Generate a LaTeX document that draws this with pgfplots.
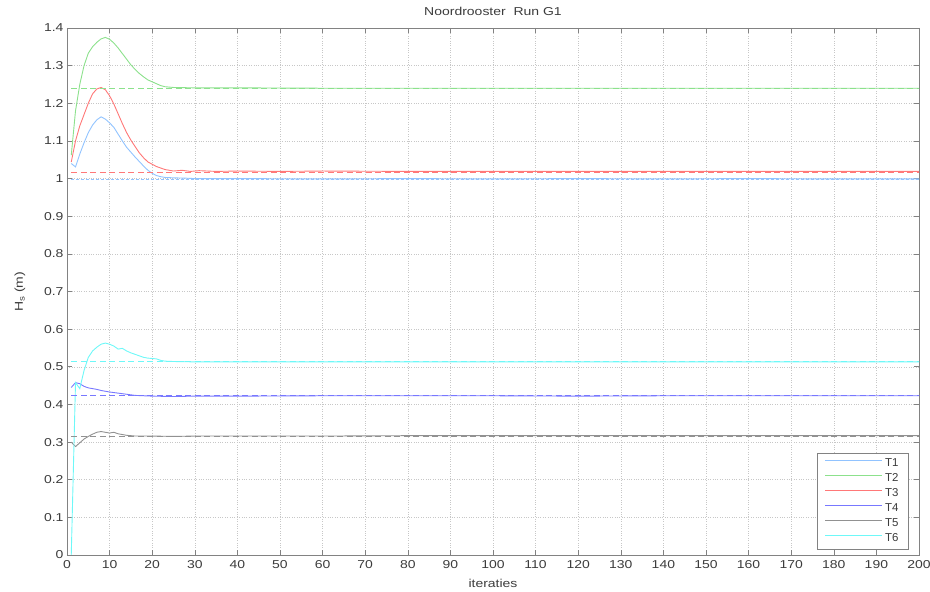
\documentclass[border=0pt]{standalone}
\usepackage{pgfplots}
\pgfplotsset{compat=1.18}
\usepackage{fontspec}
\setmainfont{Liberation Sans}[FakeStretch=1.22]
\newfontfamily\legfont{Liberation Sans}
\definecolor{cT1}{RGB}{145,195,255}
\definecolor{cT2}{RGB}{140,225,140}
\definecolor{cT3}{RGB}{255,120,120}
\definecolor{cT4}{RGB}{120,120,255}
\definecolor{cT5}{RGB}{145,145,145}
\definecolor{cT6}{RGB}{110,248,248}
\definecolor{axgray}{RGB}{130,130,130}
\definecolor{txtgray}{RGB}{60,60,60}
\begin{document}
\begin{tikzpicture}
\path[use as bounding box] (-67bp,-37bp) rectangle (863bp,555bp);
\begin{axis}[
  scale only axis,
  width=852bp, height=527bp,
  xmin=0, xmax=200, ymin=0, ymax=1.4,
  xtick={0,10,...,200},
  ytick={0,0.1,...,1.4},
  yticklabels={0,0.1,0.2,0.3,0.4,0.5,0.6,0.7,0.8,0.9,1,1.1,1.2,1.3,1.4},
  scaled y ticks=false,
  grid=major,
  major grid style={dotted, color=black!22, line width=0.5bp},
  axis line style={color=axgray, line width=0.8bp},
  tick style={color=axgray, line width=0.6bp},
  tick align=inside,
  major tick length=5bp,
  font=\fontsize{11.5}{13}\selectfont,
  ticklabel style={color=txtgray},
  xticklabel style={yshift=-2bp},
  /pgf/number format/assume math mode=true,
  title={Noordrooster\ \ Run G1},
  title style={yshift=3bp, color=txtgray},
  xlabel={iteraties},
  xlabel style={yshift=-4bp, color=txtgray},
  ylabel={H$_\mathrm{s}$ (m)},
  ylabel style={yshift=12bp, color=txtgray},
  legend style={at={(rel axis cs:0.988,0.011)}, anchor=south east, draw=axgray, line width=0.6bp,
    font=\legfont\fontsize{11.5}{13}\selectfont, text=txtgray, row sep=1.6bp, inner xsep=8bp, inner ysep=3.5bp,
    /tikz/every even column/.append style={column sep=5bp}},
  legend cell align=left,
  legend image code/.code={\draw[mark repeat=2,mark phase=2,#1, line width=1.3bp] plot coordinates {(0bp,3.2bp) (28bp,3.2bp) (57bp,3.2bp)};},
  every axis plot/.append style={line width=0.9bp},
]
% solid curves
\addplot[color=cT1] coordinates {(1,1.040) (2,1.031) (3,1.065) (4,1.095) (5,1.122) (6,1.142) (7,1.156) (8,1.164) (9,1.158) (10,1.148) (11,1.136) (12,1.118) (13,1.100) (14,1.083) (15,1.070) (16,1.057) (17,1.045) (18,1.033) (19,1.022) (20,1.014) (21,1.008) (22,1.005) (23,1.003) (25,1.002) (28,1.001) (30,1.000) (40,1.000) (60,0.999) (80,1.000) (100,0.999) (120,1.000) (140,0.999) (160,1.000) (180,0.999) (200,0.999)};
\addlegendentry{T1}
\addplot[color=cT2] coordinates {(1,1.062) (2,1.180) (3,1.250) (4,1.300) (5,1.333) (6,1.350) (7,1.362) (8,1.371) (9,1.375) (10,1.370) (11,1.360) (12,1.347) (13,1.332) (14,1.317) (15,1.302) (16,1.290) (17,1.279) (18,1.270) (19,1.262) (20,1.257) (21,1.252) (22,1.247) (23,1.244) (25,1.242) (30,1.241) (40,1.241) (60,1.240) (80,1.240) (100,1.240) (120,1.240) (140,1.240) (160,1.240) (180,1.240) (200,1.240)};
\addlegendentry{T2}
\addplot[color=cT3] coordinates {(1,1.044) (2,1.100) (3,1.140) (4,1.170) (5,1.200) (6,1.225) (7,1.238) (8,1.242) (9,1.236) (10,1.220) (11,1.198) (12,1.172) (13,1.146) (14,1.122) (15,1.102) (16,1.085) (17,1.068) (18,1.055) (19,1.044) (20,1.038) (21,1.032) (22,1.028) (23,1.024) (24,1.022) (25,1.020) (27,1.022) (29,1.019) (31,1.021) (35,1.019) (40,1.020) (50,1.019) (60,1.020) (80,1.019) (100,1.019) (120,1.019) (140,1.019) (160,1.019) (180,1.019) (200,1.019)};
\addlegendentry{T3}
\addplot[color=cT4] coordinates {(1,0.445) (2,0.458) (3,0.455) (4,0.448) (5,0.444) (6,0.442) (7,0.440) (8,0.437) (9,0.435) (10,0.433) (12,0.430) (14,0.427) (16,0.424) (18,0.423) (20,0.422) (25,0.421) (30,0.422) (40,0.422) (60,0.423) (80,0.423) (100,0.423) (120,0.422) (140,0.423) (160,0.423) (180,0.423) (200,0.423)};
\addlegendentry{T4}
\addplot[color=cT5] coordinates {(1,0.300) (2,0.288) (3,0.298) (4,0.308) (5,0.315) (6,0.321) (7,0.326) (8,0.328) (9,0.326) (10,0.324) (11,0.326) (12,0.322) (13,0.320) (14,0.318) (16,0.316) (20,0.316) (25,0.315) (30,0.316) (40,0.316) (60,0.316) (80,0.317) (100,0.317) (120,0.317) (140,0.317) (160,0.317) (180,0.317) (200,0.317)};
\addlegendentry{T5}
\addplot[color=cT6] coordinates {(1,0.000) (2,0.458) (3,0.442) (4,0.490) (5,0.525) (6,0.542) (7,0.552) (8,0.560) (9,0.563) (10,0.560) (11,0.555) (12,0.547) (13,0.549) (14,0.542) (15,0.537) (16,0.533) (17,0.529) (18,0.525) (19,0.523) (20,0.522) (21,0.521) (22,0.517) (23,0.515) (25,0.514) (30,0.513) (40,0.513) (60,0.513) (80,0.513) (100,0.513) (120,0.513) (140,0.513) (160,0.513) (180,0.513) (200,0.513)};
\addlegendentry{T6}
% dashed reference levels
\addplot[color=cT1, dash pattern=on 3bp off 2bp, forget plot] coordinates {(1,0.997) (200,0.997)};
\addplot[color=cT2, dash pattern=on 6bp off 3.5bp, forget plot] coordinates {(1,1.240) (200,1.240)};
\addplot[color=cT3, dash pattern=on 6bp off 3.5bp, forget plot] coordinates {(1,1.016) (200,1.016)};
\addplot[color=cT4, dash pattern=on 6bp off 3.5bp, forget plot] coordinates {(1,0.423) (200,0.423)};
\addplot[color=cT5, dash pattern=on 6bp off 3.5bp, forget plot] coordinates {(1,0.315) (200,0.315)};
\addplot[color=cT6, dash pattern=on 6bp off 3.5bp, forget plot] coordinates {(1,0.513) (200,0.513)};
\end{axis}
\end{tikzpicture}
\end{document}
